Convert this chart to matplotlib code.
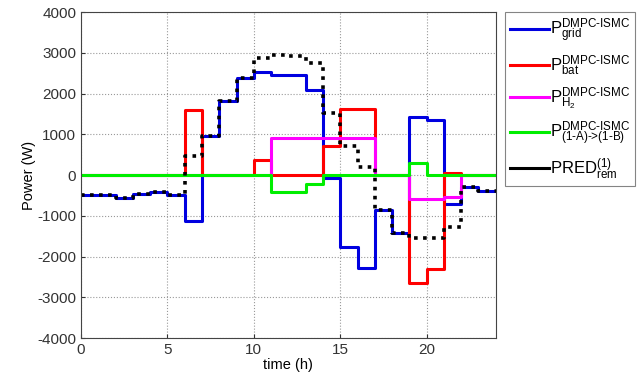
import numpy as np
import matplotlib.pyplot as plt
from matplotlib.lines import Line2D

plt.rcParams['font.family'] = ['Liberation Sans', 'DejaVu Sans']
plt.rcParams['mathtext.fontset'] = 'custom'
plt.rcParams['mathtext.rm'] = 'Liberation Sans'
plt.rcParams['mathtext.it'] = 'Liberation Sans'
plt.rcParams['axes.unicode_minus'] = False

# hourly values (W), step held for each hour
hours = list(range(25))
p_grid = [-490, -490, -570, -460, -420, -480, -1120, 950, 1810, 2380, 2530, 2460,
          2450, 2080, -70, -1760, -2290, -860, -1430, 1430, 1350, -710, -290, -390]
p_bat = [0, 0, 0, 0, 0, 0, 1600, 0, 0, 0, 370, 0,
         0, 0, 710, 1620, 1620, 0, 0, -2640, -2310, 50, 0, 0]
p_h2 = [0, 0, 0, 0, 0, 0, 0, 0, 0, 0, 0, 915,
        915, 915, 915, 915, 915, 0, 0, -590, -590, -530, 0, 0]
p_1a1b = [0, 0, 0, 0, 0, 0, 0, 0, 0, 0, 0, -410,
          -410, -220, 0, 0, 0, 0, 0, 290, 0, 0, 0, 0]
pred_rem = [-490, -490, -570, -460, -420, -480, 470, 950, 1810, 2380, 2870, 2940,
            2920, 2760, 1520, 720, 190, -860, -1430, -1550, -1550, -1270, -290, -390]

labels = [r'P$^{\text{DMPC-ISMC}}_{\text{grid}}$',
          r'P$^{\text{DMPC-ISMC}}_{\text{bat}}$',
          r'P$^{\text{DMPC-ISMC}}_{\text{H}_2}$',
          r'P$^{\text{DMPC-ISMC}}_{\text{(1-A)->(1-B)}}$',
          r'PRED$^{\text{(1)}}_{\text{rem}}$']
cols = ['#0000e0', '#ff0000', '#ff00ff', '#00ee00', 'black']


def ext(v):
    return np.append(v, v[-1])


fig = plt.figure(figsize=(6.43, 3.79), dpi=100)
ax = fig.add_axes([0.126, 0.108, 0.645, 0.860])

ax.step(hours, ext(p_grid), where='post', color=cols[0], lw=2.2)
ax.step(hours, ext(p_bat), where='post', color=cols[1], lw=2.2)
ax.step(hours, ext(p_h2), where='post', color=cols[2], lw=2.2)
ax.step(hours, ext(p_1a1b), where='post', color=cols[3], lw=2.2)
ax.step(hours, ext(pred_rem), where='post', color=cols[4], lw=2.6,
        linestyle=(0, (1, 1.5)))

ax.set_xlim(0, 24)
ax.set_ylim(-4000, 4000)
ax.set_xticks([0, 5, 10, 15, 20])
ax.set_yticks(range(-4000, 4001, 1000))
ax.grid(True, linestyle=':', color='#999999', lw=0.8)
ax.tick_params(labelsize=11, direction='in', length=3, colors='#333333')
ax.set_xlabel('time (h)', fontsize=10.5, labelpad=1)
ax.set_ylabel('Power (W)', fontsize=10.5, labelpad=1)
for s in ax.spines.values():
    s.set_color('#444444')

# legend handles drawn solid like the original
handles = [Line2D([0], [0], color=c, lw=2.2) for c in cols]
leg = fig.legend(handles, labels, loc='upper left', bbox_to_anchor=(0.786, 0.968),
                 fontsize=12, fancybox=False, edgecolor='#666666', handlelength=2.3,
                 handletextpad=0.1, labelspacing=0.48, borderpad=0.3, borderaxespad=0)
leg.get_frame().set_linewidth(0.8)

fig.savefig('out.png', dpi=100)
